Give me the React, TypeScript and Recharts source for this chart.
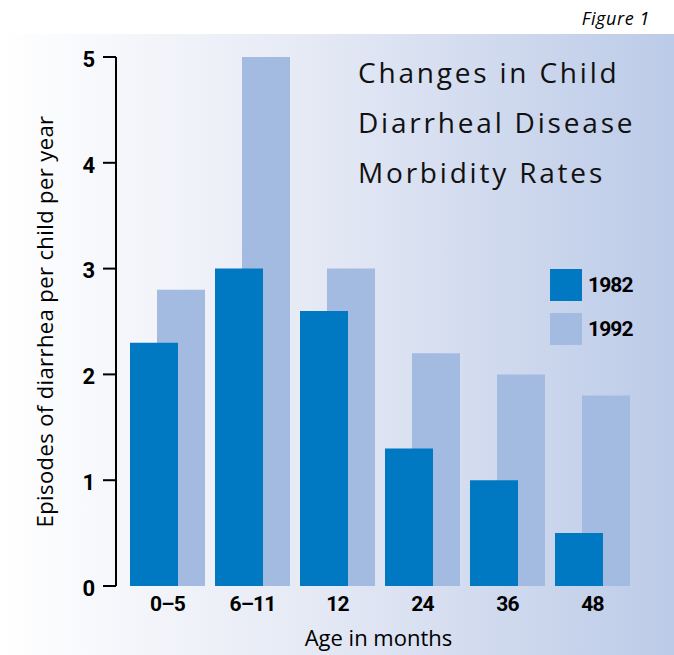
import React from 'react';
import { BarChart, Bar, XAxis, YAxis, Legend, Label } from 'recharts';

const categories = ['0–5', '6–11', '12', '24', '36', '48'];
const values1982 = [2.3, 3.0, 2.6, 1.3, 1.0, 0.5];
const values1992 = [2.8, 5.0, 3.0, 2.2, 2.0, 1.8];
const yTicks = [0, 1, 2, 3, 4, 5];
const seriesNames = ['1982', '1992'];
const seriesColors = ['#0079C2', '#A3BBE0'];
const titleLines = ['Changes in Child', 'Diarrheal Disease', 'Morbidity Rates'];
const figureLabel = 'Figure 1';
const yLabel = 'Episodes of diarrhea per child per year';
const xLabel = 'Age in months';

const data = categories.map((age, i) => ({
  age,
  y1982: values1982[i],
  y1992: values1992[i],
}));

const CONDENSED = "Roboto, 'Liberation Sans', sans-serif";
const HUMANIST = "'Open Sans', 'Noto Sans', sans-serif";

const renderLegend = () => (
  <div style={{ display: 'flex', flexDirection: 'column', gap: 12 }}>
    {seriesNames.map((name, i) => (
      <div key={name} style={{ display: 'flex', alignItems: 'center', height: 32 }}>
        <div style={{ width: 32, height: 32, background: seriesColors[i] }} />
        <span
          style={{
            marginLeft: 6,
            fontFamily: CONDENSED,
            fontWeight: 700,
            fontSize: 21,
            letterSpacing: -0.9,
            color: '#000',
          }}
        >
          {name}
        </span>
      </div>
    ))}
  </div>
);

export default function App() {
  return (
    <div style={{ position: 'absolute', left: 0, top: 0, width: 674, height: 655, background: '#fff', overflow: 'hidden' }}>
      <div
        style={{
          position: 'absolute',
          left: 0,
          top: 34,
          width: 674,
          height: 621,
          background: 'linear-gradient(to right, #ffffff 0%, #e6eaf5 45%, #bccbe8 100%)',
        }}
      />
      <div
        style={{
          position: 'absolute',
          right: 24,
          top: 6,
          fontFamily: HUMANIST,
          fontStyle: 'italic',
          fontSize: 18,
          letterSpacing: 0.6,
          color: '#000',
          whiteSpace: 'nowrap',
        }}
      >
        {figureLabel}
      </div>
      <div
        style={{
          position: 'absolute',
          left: 358,
          top: 47,
          fontFamily: HUMANIST,
          fontSize: 28,
          lineHeight: '50px',
          letterSpacing: 2.8,
          color: '#111',
          whiteSpace: 'nowrap',
        }}
      >
        {titleLines.map((t) => (
          <div key={t}>{t}</div>
        ))}
      </div>
      <div style={{ position: 'absolute', left: 0, top: 0 }}>
        <BarChart
          width={674}
          height={655}
          data={data}
          margin={{ top: 57, right: 39, bottom: 0, left: 0 }}
          barSize={48}
          barGap={-21}
        >
          <XAxis
            xAxisId="b"
            dataKey="age"
            hide
            padding={{ left: 9, right: 0 }}
          />
          <XAxis
            xAxisId="a"
            dataKey="age"
            height={69}
            padding={{ left: 9, right: 0 }}
            axisLine={false}
            tickLine={false}
            tickSize={0}
            tickMargin={10}
            interval={0}
            tick={{ fontFamily: CONDENSED, fontWeight: 700, fontSize: 21, letterSpacing: -0.8, fill: '#000' }}
          >
            <Label
              value={xLabel}
              position="insideBottom"
              offset={9}
              dx={3}
              style={{ fontFamily: HUMANIST, fontSize: 22, fill: '#000' }}
            />
          </XAxis>
          <YAxis
            domain={[0, 5]}
            ticks={yTicks}
            width={116}
            tickSize={13}
            tickMargin={8}
            axisLine={{ stroke: '#000', strokeWidth: 2 }}
            tickLine={{ stroke: '#000', strokeWidth: 2 }}
            tick={{ fontFamily: CONDENSED, fontWeight: 700, fontSize: 22, fill: '#000', dy: 2 }}
          >
            <Label
              value={yLabel}
              angle={-90}
              position="center"
              dx={-13}
              style={{ fontFamily: HUMANIST, fontSize: 22, letterSpacing: 0.4, fill: '#000', textAnchor: 'middle' }}
            />
          </YAxis>
          <Legend
            layout="vertical"
            align="center"
            verticalAlign="middle"
            content={renderLegend}
            wrapperStyle={{ left: 550, top: 269, width: 100, height: 80 }}
          />
          <Bar xAxisId="b" dataKey="spacer" name="spacer" fill="transparent" legendType="none" isAnimationActive={false} />
          <Bar xAxisId="b" dataKey="y1992" name={seriesNames[1]} fill={seriesColors[1]} isAnimationActive={false} />
          <Bar xAxisId="a" dataKey="y1982" name={seriesNames[0]} fill={seriesColors[0]} isAnimationActive={false} />
          <Bar xAxisId="a" dataKey="spacer" name="spacer2" fill="transparent" legendType="none" isAnimationActive={false} />
        </BarChart>
      </div>
    </div>
  );
}
